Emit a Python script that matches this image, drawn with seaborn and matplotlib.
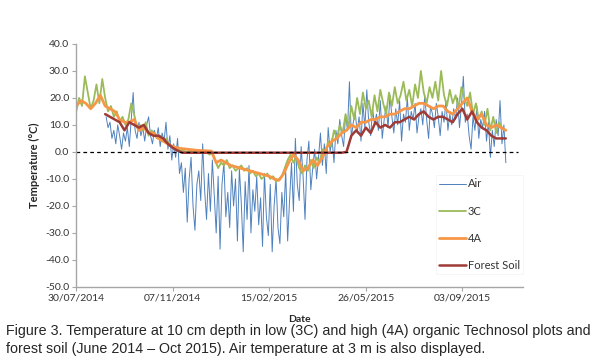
import numpy as np
import pandas as pd
import matplotlib
matplotlib.use("Agg")
import matplotlib.pyplot as plt
import seaborn as sns

start = pd.Timestamp("2014-07-30")

# air temperature at 3 m, read every 2 days (day 31 .. 445 after start)
air_days = np.arange(31, 446, 2)
air = [13, 9, 11, 5, 8, 3, 10, 6, 1, 7,
       4, 9, 2, 12, 22, 8, 5, 11, 6, 9,
       4, 10, 13, 6, 3, 8, 5, 9, 2, 7,
       4, 11, 1, 6, -3, 3, -2, 5, -8, -4,
       -15, -6, -26, -10, -2, -20, -29, -12, -7, -18,
       3, -14, -25, -8, -22, -3, -16, -30, -9, -36,
       -12, -4, -24, -15, -28, -7, -20, -10, -33, -6,
       -19, -37, -11, -25, -5, -30, -14, -22, -9, -27,
       -17, -35, -8, -24, -31, -12, -37, -20, -10, -28,
       -34, -15, -24, -7, -33, -18, -4, -22, 5, -12,
       -18, 2, -9, -25, -3, 4, -14, -6, 1, -10,
       -2, 7, -5, 3, -8, 9, 0, 5, -4, 8,
       3, 12, 6, 2, 14, 8, 26, 5, 11, 15,
       7, 13, 4, 18, 9, 23, 11, 6, 16, 10,
       14, 8, 19, 5, 12, 17, 9, 21, 13, 7,
       16, 10, 19, 4, 14, 11, 20, 8, 15, 12,
       18, 7, 13, 16, 10, 21, 12, 5, 17, 14,
       9, 18, 13, 6, 15, 11, 19, 8, 14, 10,
       16, 12, 20, 9, 17, 28, 11, 14, 6, 1,
       13, 8, 17, 5, 12, 9, 15, 4, 11, -2,
       8, 2, 12, 6, 19, 3, 10, -4]

# plot 3C, every 3 days
c3_days = np.arange(0, 445, 3)
c3 = [15, 20, 17, 28, 22, 16, 19, 25, 18, 27,
      20, 15, 17, 13, 15, 11, 13, 10, 12, 18,
      14, 9, 10, 8, 11, 6, 8, 7, 5, 6,
      4, 5, 3, 2, 1.5, 1, 0.5, 0.5, 0, 0.3,
      0, 0.2, -0.5, 0, -0.3, 0, -1, -0.5, -3, -6,
      -4, -5, -3, -6, -5, -7, -6, -5, -7, -6,
      -8, -7, -9, -8, -10, -9, -8, -10, -9, -11,
      -10, -9, -6, -3, -1, -4, -2, -6, -8, -5,
      -7, -3, -6, -2, -4, 1, -1, 4, 2, 8,
      5, 10, 7, 14, 9, 17, 12, 20, 14, 22,
      16, 19, 13, 21, 15, 23, 18, 14, 22, 17,
      24, 18, 21, 26, 19, 23, 17, 25, 20, 30,
      22, 18, 24, 20, 26, 19, 30, 21, 17, 23,
      18, 21, 16, 24, 20, 17, 22, 14, 18, 12,
      15, 10, 16, 8, 13, 7, 11, 9, 8]

# plot 4A, every 5 days
a4_days = np.arange(0, 446, 5)
a4 = [17, 19, 18, 16, 18, 21, 17, 16, 15, 12,
      11, 11, 12, 8, 9, 7, 7, 5, 4, 3,
      2, 1.5, 1.2, 1, 0.8, 0.6, 0.5, 0.4, 0.3, -4,
      -3, -4, -5, -5.5, -6, -6.5, -7, -7.5, -8, -8.5,
      -9, -10, -10.5, -8, -4, -1, -3, -7, -6, -3,
      -5, -2, 2, 4, 5, 7, 8, 10, 9, 11,
      11, 12, 12, 13, 13, 14, 14, 15, 16, 16,
      17, 18, 18, 17, 16, 17, 17, 15, 14, 16,
      18, 20, 15, 12, 14, 10, 9, 10, 9, 8]

# forest soil, every 5 days from day 30
forest_days = np.arange(30, 446, 5)
forest = [14, 13, 12, 11, 8, 11, 10, 9, 10, 7,
          6, 6, 5, 3, 1.5, 0.5] + [-0.3] * 34 + \
         [0, 6, 8, 6, 9, 7, 11, 9, 10, 9,
          11, 11, 12, 13, 12, 14, 15, 13, 12, 13,
          13, 12, 11, 14, 16, 12, 15, 11, 9, 8,
          6, 5, 5, 5]

zero_line = ["2014-07-30", "2015-10-31"]
tick_labels = ["30/07/2014", "07/11/2014", "15/02/2015", "26/05/2015", "03/09/2015"]
x_end = "2015-11-05"

names = ["Air", "3C", "4A", "Forest Soil"]
colors = ["#4F81BD", "#9BBB59", "#F79646", "#9E3B36"]
widths = [0.7, 1.3, 2.0, 1.8]

series = [(air_days, air), (c3_days, c3), (a4_days, a4), (forest_days, forest)]

sns.set_theme(style="white")
plt.rcParams["font.family"] = ["Lato", "DejaVu Sans"]

fig = plt.figure(figsize=(6, 3.6), dpi=100)
ax = fig.add_axes([0.127, 0.203, 0.745, 0.675])

for (d, v), name, col, lw in zip(series, names, colors, widths):
    df = pd.DataFrame({"date": start + pd.to_timedelta(d, unit="D"), "temp": v})
    sns.lineplot(data=df, x="date", y="temp", ax=ax, color=col, linewidth=lw,
                 estimator=None, sort=False, label=name)

ax.plot(pd.to_datetime(zero_line), [0, 0], color="black", lw=0.9, ls=(0, (3, 2.5)))

ax.set_ylim(-50, 40)
ax.set_yticks(np.arange(-50, 41, 10))
ax.set_yticklabels([f"{t:.1f}" for t in np.arange(-50, 41, 10)])
ax.set_xlim(start, pd.Timestamp(x_end))
ax.set_xticks(pd.to_datetime(tick_labels, dayfirst=True))
ax.set_xticklabels(tick_labels)

for s in ["top", "right"]:
    ax.spines[s].set_visible(False)
for s in ["left", "bottom"]:
    ax.spines[s].set_color("#a6a6a6")
    ax.spines[s].set_linewidth(1.0)
ax.tick_params(axis="both", which="major", labelsize=7.5, colors="#a6a6a6",
               labelcolor="#333333", length=3, width=0.8, direction="out",
               left=True, bottom=True, pad=2)

ax.set_xlabel("Date", fontsize=7.5, fontweight="bold", labelpad=9)
ax.set_ylabel("Temperature (°C)", fontsize=8, fontweight="bold", labelpad=4)

leg = ax.legend(loc="upper left", bbox_to_anchor=(0.792, 0.483), frameon=True,
                fontsize=8, handlelength=2.4, handletextpad=0.2,
                labelspacing=1.45, borderpad=0.3)
leg.get_frame().set_edgecolor("#f2f2f2")
leg.get_frame().set_linewidth(0.6)
leg.get_frame().set_boxstyle("square", pad=0)
for t in leg.get_texts():
    t.set_color("#333333")

fig.text(0.010, 0.081, "Figure 3. Temperature at 10 cm depth in low (3C) and high (4A) organic Technosol plots and",
         fontsize=10.3, family="Liberation Sans", va="center")
fig.text(0.010, 0.030, "forest soil (June 2014 \u2013 Oct 2015). Air temperature at 3 m is also displayed.",
         fontsize=10.3, family="Liberation Sans", va="center")

fig.savefig("out.png", dpi=100)
